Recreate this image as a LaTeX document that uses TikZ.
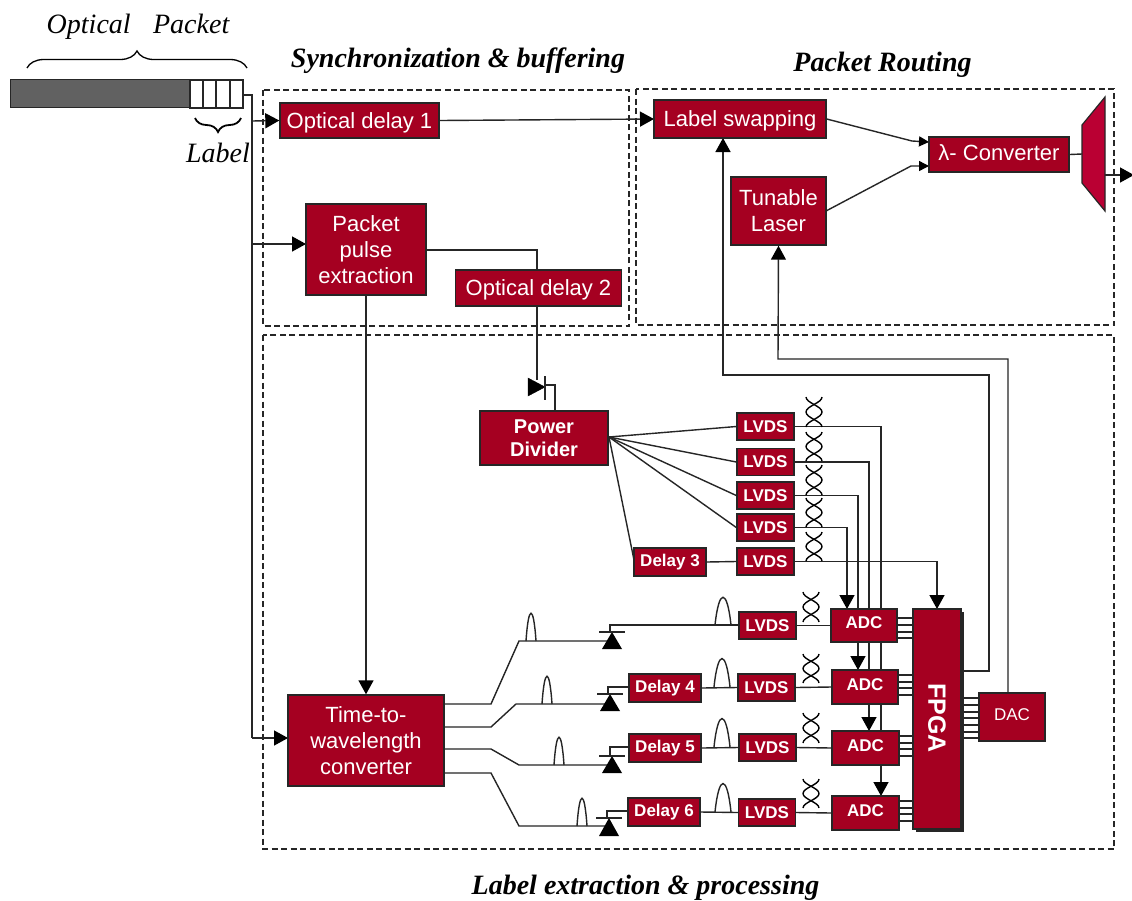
\documentclass[tikz,border=0pt]{standalone}
\usepackage{fontspec}
\setmainfont{Liberation Sans}
\newfontfamily\tnr{Liberation Serif}
\usetikzlibrary{arrows.meta,backgrounds,decorations.pathreplacing}
\definecolor{boxred}{HTML}{A50021}
\definecolor{muxred}{HTML}{BA0033}
\definecolor{edge}{HTML}{262626}
\tikzset{
  redbox/.style={draw=edge,line width=1.4pt,fill=boxred,text=white,inner sep=0pt,align=center,font=\fontsize{22}{26}\selectfont},
  onelinebox/.style={redbox,text depth=0pt},
  smallbox/.style={redbox,font=\fontsize{17}{20}\selectfont\bfseries},
  wire/.style={draw=edge,line width=1.4pt,line join=miter},
  arrowwire/.style={wire,-{Triangle[length=14pt,width=15pt,color=black]}},
  smallarrow/.style={wire,-{Triangle[length=10pt,width=10pt,color=black]}},
  dashbox/.style={draw=edge,line width=1.2pt,dash pattern=on 6pt off 3.5pt},
  titletext/.style={font=\tnr\fontsize{28}{31}\selectfont\bfseries\itshape,text=black,inner sep=0pt},
  handtext/.style={font=\tnr\fontsize{28}{31}\selectfont\itshape,text=black,inner sep=0pt},
  thinwire/.style={draw=black,line width=1.4pt},
  bracewire/.style={draw=black,line width=1.3pt,decorate}
}
\begin{document}
\begin{tikzpicture}[x=1pt,y=-1pt]
\useasboundingbox (0,0) rectangle (1132,900);
% boxes
\node[onelinebox,minimum width=159pt,minimum height=35pt] (od1) at (359.5,120.5) {Optical delay 1};
\node[redbox,minimum width=120pt,minimum height=91pt] (ppe) at (366,249.5) {Packet\\pulse\\extraction};
\node[onelinebox,minimum width=166pt,minimum height=36pt] (od2) at (538.5,288) {Optical delay 2};
\node[onelinebox,minimum width=172pt,minimum height=38pt] (swap) at (740,119) {Label swapping};
\node[redbox,minimum width=95pt,minimum height=68pt] (laser) at (778.5,211) {Tunable\\Laser};
\node[redbox,text depth=4pt,minimum width=140pt,minimum height=35pt] (conv) at (999,154.5) {λ- Converter};
\node[redbox,minimum width=156pt,minimum height=91pt] (ttw) at (366,740.5) {Time-to-\\wavelength\\converter};
\node[redbox,minimum width=128pt,minimum height=54pt,font=\fontsize{20}{23}\selectfont\bfseries] (pd) at (544,438) {Power\\Divider};
\node[smallbox,minimum width=57pt,minimum height=27pt] (u1) at (765.5,426.5) {LVDS};
\node[smallbox,minimum width=57pt,minimum height=27pt] (u2) at (765.5,462) {LVDS};
\node[smallbox,minimum width=57pt,minimum height=27pt] (u3) at (765.5,495.5) {LVDS};
\node[smallbox,minimum width=57pt,minimum height=27pt] (u4) at (765.5,527.5) {LVDS};
\node[smallbox,minimum width=57pt,minimum height=27pt] (u5) at (765.5,561.5) {LVDS};
\node[smallbox,minimum width=72pt,minimum height=28pt] (d3) at (670,562) {Delay 3};
\node[smallbox,minimum width=57pt,minimum height=27pt] (l1) at (767.5,625.5) {LVDS};
\node[smallbox,minimum width=57pt,minimum height=27pt] (l2) at (766.5,687.5) {LVDS};
\node[smallbox,minimum width=57pt,minimum height=27pt] (l3) at (767.5,747.5) {LVDS};
\node[smallbox,minimum width=57pt,minimum height=27pt] (l4) at (767,812.5) {LVDS};
\node[smallbox,minimum width=72pt,minimum height=28pt] (d4) at (665,688) {Delay 4};
\node[smallbox,minimum width=72pt,minimum height=28pt] (d5) at (665,748) {Delay 5};
\node[smallbox,minimum width=72pt,minimum height=28pt] (d6) at (664,812) {Delay 6};
\node[smallbox,text depth=5pt,minimum width=66pt,minimum height=33pt] (a1) at (864,625.5) {ADC};
\node[smallbox,text depth=5pt,minimum width=66pt,minimum height=34pt] (a2) at (865,687) {ADC};
\node[smallbox,text depth=5pt,minimum width=67pt,minimum height=34pt] (a3) at (865.5,748) {ADC};
\node[smallbox,text depth=5pt,minimum width=67pt,minimum height=34pt] (a4) at (865.5,813) {ADC};
\node[redbox,minimum width=48pt,minimum height=220pt] (fpga) at (937,719) {};
\node[text=white,inner sep=0pt,rotate=-90,font=\fontsize{25}{28}\selectfont\bfseries] (fpgat) at (937,718) {FPGA};
\node[redbox,text depth=5pt,minimum width=66pt,minimum height=48pt,font=\fontsize{17}{20}\selectfont] (dac) at (1012,717) {DAC};
% free ends and junctions
\coordinate (pktout) at (243,95);
\coordinate (bus) at (252,95);
\coordinate (busA) at (252,121);
\coordinate (busB) at (252,244);
\coordinate (busC) at (252,738);
\coordinate (pp1) at (306,244);
\coordinate (tt1) at (288,738);
\coordinate (sw1) at (654,119);
\coordinate (muxin) at (1082,154);
\coordinate (muxout) at (1105,175);
\coordinate (exit) at (1134,175);
\node (titleA) at (458,61) [titletext] {Synchronization \& buffering};
\node (titleB) at (882.5,65) [titletext] {Packet Routing};
\node (titleC) at (645.5,888) [titletext] {Label extraction \& processing};
\node (titleD) at (138,27) [handtext] {Optical\hspace{0.55em} Packet};
\node (titleE) at (218,153) [handtext] {Label};
\begin{scope}[on background layer]
\fill[white] (0,0) rectangle (1132,900);
% dashed regions
\draw[dashbox] (263,90) rectangle (629,326);
\draw[dashbox] (636,89) rectangle (1114,325);
\draw[dashbox] (263,335) rectangle (1114,849);
% optical packet
\draw[edge,line width=1pt,fill=black!62] (10,79) rectangle (190,107);
\foreach \a/\b in {190/203,203/216,216/230,230/243}
  \draw[edge,line width=1.2pt,fill=white] (\a,80) rectangle (\b,108);
\draw[bracewire,decoration={brace,amplitude=17pt}] (27,68) -- (247,68);
\draw[bracewire,line width=1.8pt,decoration={brace,amplitude=14pt,mirror}] (195,118) -- (241,118);
% input bus
\draw[wire] (pktout) -- (bus) -- (busC);
\draw[arrowwire] (busA) -- (od1.west);
\draw[arrowwire] (busB) -- (pp1);
\draw[arrowwire] (busC) -- (tt1);
\draw[arrowwire] (od1.east) -- (sw1);
% routing
\coordinate (c1a) at (912,141); \coordinate (c1b) at (929,142);
\coordinate (c2a) at (911,166); \coordinate (c2b) at (929,166);
\draw[smallarrow] (swap.east) -- (c1a) -- (c1b);
\coordinate (laserout) at (826,211);
\draw[smallarrow] (laserout) -- (c2a) -- (c2b);
\draw[wire] (conv.east) -- (muxin);
\draw[arrowwire] (muxout) -- (exit);
\draw[draw=edge,line width=1.2pt,fill=muxred] (1082,125) -- (1105,97) -- (1105,211) -- (1082,183) -- cycle;
% packet pulse to diode
\coordinate (ppo) at (426,250); \coordinate (kneeA) at (537,250); \coordinate (diodeIn) at (537,380);
\draw[wire] (ppo) -- (kneeA) -- (diodeIn);
\draw[fill=black,draw=black] (528,378) -- (545,387) -- (528,396) -- cycle;
\draw[wire] (545,376) -- (545,400);
\coordinate (diodeOut) at (555,385); \coordinate (pdin) at (555,411);
\draw[wire] (545,385) -- (diodeOut) -- (pdin);
\draw[arrowwire] (ppe.south) -- (ttw.north);
% fan out
\coordinate (fan) at (609,437);
\coordinate (d3in) at (634,560);
\foreach \t in {u1,u2,u3,u4} \draw[wire] (fan) -- (\t.west);
\draw[wire] (fan) -- (d3in);
\draw[wire] (d3.east) -- (u5.west);
% LVDS to ADC
\coordinate (i1) at (847,609); \coordinate (i2) at (858,670); \coordinate (i3) at (869,731); \coordinate (i4) at (881,796);
\coordinate (i5) at (937,609);
\draw[arrowwire] (u4.east) -| (i1);
\draw[arrowwire] (u3.east) -| (i2);
\draw[arrowwire] (u2.east) -| (i3);
\draw[arrowwire] (u1.east) -| (i4);
\draw[arrowwire] (u5.east) -| (i5);
% waveguides
\foreach \sy/\ky/\ey/\dx in {704/491/641/612,727/491/704/610,749/491/765/612,773/491/826/609}
  \draw[wire] (444,\sy) -- (491,\sy) -- ({\ifnum\sy=727 516\else 519\fi},\ey) -- (\dx,\ey);
% photodiodes
\foreach \cx/\bar/\base/\oy/\tgt in {612/632/649/625/l1,610/694/711/687/d4,612/756/773/747/d5,609/818/836/811/d6}{
  \fill[black] (\cx-10,\base) -- (\cx+10,\base) -- (\cx,\bar) -- cycle;
  \draw[wire] (\cx-13,\bar) -- (\cx+13,\bar);
  \draw[wire] (\cx-2,\bar) -- (\cx-2,\oy) -- (\tgt.west |- 0,\oy);
}
% rows
\draw[wire] (l1.east) -- (a1.west);
\draw[wire] (d4.east) -- (l2.west);
\draw[wire] (l2.east) -- (a2.west);
\draw[wire] (d5.east) -- (l3.west);
\draw[wire] (l3.east) -- (a3.west);
\draw[wire] (d6.east) -- (l4.west);
\draw[wire] (l4.east) -- (a4.west);
% ADC to FPGA buses
\foreach \y in {618,625,632,638,675,682,688,695,736,743,749,756,801,808,814,821}
  \draw[wire,line width=1.1pt] (895,\y) -- (915,\y);
\foreach \y in {698,705,712,718,725,732,738}
  \draw[wire,line width=1.1pt] (960,\y) -- (981,\y);
% feedback
\coordinate (f0) at (961,671); \coordinate (f1) at (989,671); \coordinate (f2) at (989,375); \coordinate (f3) at (723,375); \coordinate (f4) at (723,138);
\draw[arrowwire] (f0) -- (f1) -- (f2) -- (f3) -- (f4);
\coordinate (g0) at (1008,693); \coordinate (g1) at (1008,359); \coordinate (g2) at (778,359);
\draw[arrowwire] (g0) -- (g1) -- (g2) -- (laser.south);
% pulses
\foreach \x/\b/\t/\w in {531/641/612/5,547/704/675/5,559/765/736/5,582/826/797/5,723/625/596/8,722/687/657/8,722/747/717/8,723/812/782/8}
  \draw[thinwire,draw=edge] (\x-\w,\b) .. controls (\x-\w*0.5,\t-8) and (\x+\w*0.5,\t-8) .. (\x+\w,\b);
% twisted pairs
\foreach \c/\a/\h in {814/397/30,814/432/29,814/465/30,814/498/29,814/532/29,811/592/30,811/654/29,811/713/30,811/779/29}{
  \draw[thinwire] (\c-8,\a) .. controls (\c-8,\a+0.2*\h) and (\c+8,\a+0.3*\h) .. (\c+8,\a+0.5*\h) .. controls (\c+8,\a+0.7*\h) and (\c-8,\a+0.8*\h) .. (\c-8,\a+\h);
  \draw[thinwire] (\c+8,\a) .. controls (\c+8,\a+0.2*\h) and (\c-8,\a+0.3*\h) .. (\c-8,\a+0.5*\h) .. controls (\c-8,\a+0.7*\h) and (\c+8,\a+0.8*\h) .. (\c+8,\a+\h);
}
\fill[black!85] (916,612) rectangle (964,832);
\end{scope}
\end{tikzpicture}
\end{document}
